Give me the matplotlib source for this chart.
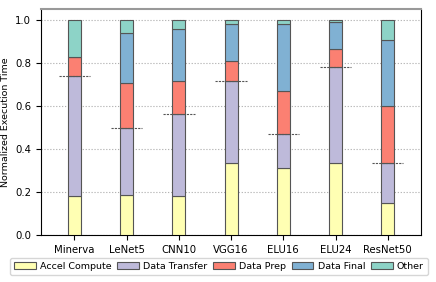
import matplotlib.pyplot as plt
import numpy as np

models = ["Minerva", "LeNet5", "CNN10", "VGG16", "ELU16", "ELU24", "ResNet50"]
# cumulative tops
accel_top = np.array([0.182, 0.184, 0.179, 0.335, 0.309, 0.332, 0.150])
transfer_top = np.array([0.739, 0.495, 0.561, 0.714, 0.467, 0.781, 0.332])
prep_top = np.array([0.828, 0.705, 0.713, 0.808, 0.666, 0.861, 0.598])
final_top = np.array([0.828, 0.937, 0.958, 0.981, 0.977, 0.988, 0.903])
other_top = np.array([1.0, 1.0, 1.0, 1.0, 1.0, 1.0, 1.0])

accel = accel_top
transfer = transfer_top - accel_top
prep = prep_top - transfer_top
final = final_top - prep_top
other = other_top - final_top

labels = ["Accel Compute", "Data Transfer", "Data Prep", "Data Final", "Other"]
colors = ["#ffffb3", "#bebada", "#fb8072", "#80b1d3", "#8dd3c7"]

fig = plt.figure(figsize=(4.36, 2.82), dpi=100)
ax = fig.add_axes([0.094, 0.167, 0.872, 0.802])

x = np.arange(len(models))
bottom = np.zeros(len(models))
for vals, lab, col in zip([accel, transfer, prep, final, other], labels, colors):
    ax.bar(x, vals, 0.25, bottom=bottom, color=col, edgecolor="#555555",
           linewidth=0.8, label=lab, zorder=3)
    bottom += vals

# dotted marker at accel + transfer
ax.hlines(transfer_top, x - 0.3, x + 0.3, colors="#555555", linestyles=(0, (2, 1)),
          linewidth=0.8, zorder=4)

ax.set_xlim(-0.64, 6.64)
ax.set_ylim(0, 1.05)
ax.set_yticks([0.0, 0.2, 0.4, 0.6, 0.8, 1.0])
ax.set_xticks(x)
ax.set_xticklabels(models)
ax.tick_params(labelsize=7.3)
ax.set_ylabel("Normalized Execution Time", fontsize=6.8, labelpad=4)
ax.yaxis.grid(True, linestyle=":", color="#aaaaaa", linewidth=0.8, zorder=0)
ax.spines["top"].set_color("#999999")
ax.spines["top"].set_linewidth(1.5)

ax.legend(loc="upper center", bbox_to_anchor=(0.468, -0.08), ncol=5, fontsize=6.8,
          handlelength=2.3, handletextpad=0.45, columnspacing=0.6, borderpad=0.45,
          frameon=True)

plt.savefig("out.png", dpi=100)
